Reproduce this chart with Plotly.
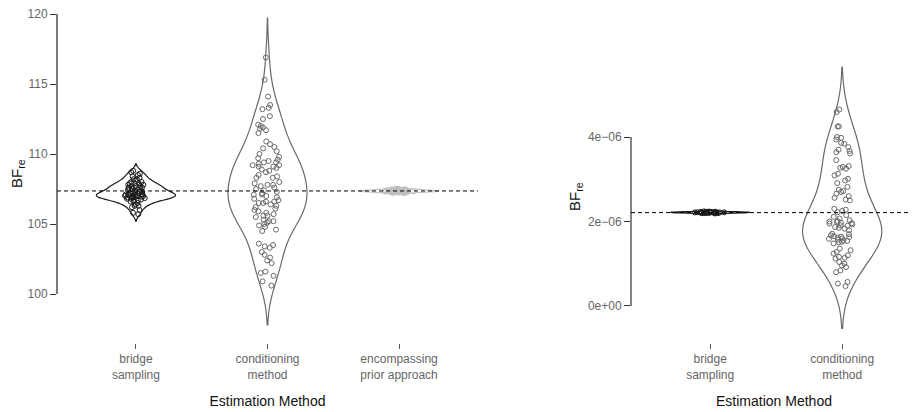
import plotly.graph_objects as go

# ---------------- data ----------------
left_categories = ["bridge<br>sampling", "conditioning<br>method", "encompassing<br>prior approach"]
right_categories = ["bridge<br>sampling", "conditioning<br>method"]

left_bridge = [108.8, 108.7, 108.6, 108.5, 108.4, 108.3, 108.2, 108.2, 108.1, 108.0, 108.0,
               107.9, 107.9, 107.8, 107.8, 107.8, 107.7, 107.7, 107.7, 107.6, 107.6, 107.6,
               107.5, 107.5, 107.5, 107.4, 107.4, 107.4, 107.3, 107.3, 107.3, 107.2, 107.2,
               107.2, 107.15, 107.1, 107.1, 107.1, 107.05, 107.05, 107.0, 107.0, 107.0, 107.0,
               107.0, 107.0, 106.95, 106.95, 106.9, 106.9, 106.9, 106.85, 106.8, 106.8, 106.75,
               106.7, 106.7, 106.6, 106.6, 106.5, 106.4, 106.3, 106.3, 106.2, 106.0, 105.8,
               105.7]

left_conditioning = [116.9, 115.3, 114.1, 113.5, 113.3, 113.2, 112.7, 112.5, 112.1, 112.0,
                     111.8, 111.7, 111.5, 111.9, 110.9, 110.7, 110.5, 110.4, 110.2, 110.0,
                     109.8, 109.7, 109.6, 109.5, 109.4, 109.4, 109.3, 109.2, 109.2, 109.1,
                     109.1, 109.0, 108.9, 108.8, 108.7, 108.5, 108.4, 108.3, 108.3, 108.0,
                     107.9, 107.8, 107.8, 107.7, 107.6, 107.5, 107.4, 107.3, 107.2, 107.1,
                     107.1, 107.0, 106.9, 106.8, 106.7, 106.6, 106.6, 106.5, 106.5, 106.4,
                     106.3, 106.2, 106.1, 106.0, 105.9, 105.8, 105.7, 105.6, 105.6, 105.5,
                     105.3, 105.2, 105.2, 105.1, 105.0, 104.9, 104.8, 104.6, 104.5, 103.6,
                     103.5, 103.4, 103.3, 103.0, 102.8, 102.6, 102.4, 102.2, 101.6, 101.5,
                     101.3, 100.9, 100.6]

left_encompassing = [107.52, 107.50, 107.48, 107.47, 107.46, 107.45, 107.44, 107.43, 107.42,
                     107.42, 107.41, 107.40, 107.40, 107.39, 107.39, 107.38, 107.38, 107.37,
                     107.37, 107.36, 107.36, 107.36, 107.35, 107.35, 107.35, 107.34, 107.34,
                     107.33, 107.33, 107.32, 107.32, 107.31, 107.31, 107.30, 107.30, 107.29,
                     107.28, 107.27, 107.26, 107.25, 107.24, 107.22, 107.20]

right_bridge = [2.240e-6, 2.235e-6, 2.232e-6, 2.230e-6, 2.228e-6, 2.226e-6, 2.225e-6, 2.224e-6,
                2.222e-6, 2.221e-6, 2.220e-6, 2.219e-6, 2.218e-6, 2.217e-6, 2.216e-6, 2.215e-6,
                2.214e-6, 2.213e-6, 2.212e-6, 2.211e-6, 2.210e-6, 2.208e-6, 2.206e-6, 2.204e-6,
                2.202e-6, 2.200e-6, 2.197e-6, 2.194e-6, 2.190e-6]

right_conditioning = [4.65e-6, 4.59e-6, 4.25e-6, 4.25e-6, 4.00e-6, 3.98e-6, 3.94e-6, 3.86e-6,
                      3.84e-6, 3.76e-6, 3.70e-6, 3.67e-6, 3.64e-6, 3.61e-6, 3.45e-6, 3.31e-6,
                      3.29e-6, 3.27e-6, 3.25e-6, 3.13e-6, 3.09e-6, 3.01e-6, 2.97e-6, 2.91e-6,
                      2.82e-6, 2.75e-6, 2.72e-6, 2.70e-6, 2.66e-6, 2.60e-6, 2.56e-6, 2.52e-6,
                      2.50e-6, 2.30e-6, 2.28e-6, 2.25e-6, 2.22e-6, 2.15e-6, 2.11e-6, 2.07e-6,
                      2.03e-6, 2.01e-6, 2.00e-6, 1.99e-6, 1.97e-6, 1.96e-6, 1.95e-6, 1.93e-6,
                      1.91e-6, 1.90e-6, 1.87e-6, 1.85e-6, 1.83e-6, 1.79e-6, 1.71e-6, 1.70e-6,
                      1.67e-6, 1.65e-6, 1.64e-6, 1.63e-6, 1.62e-6, 1.60e-6, 1.59e-6, 1.57e-6,
                      1.55e-6, 1.54e-6, 1.52e-6, 1.51e-6, 1.48e-6, 1.36e-6, 1.32e-6, 1.28e-6,
                      1.24e-6, 1.20e-6, 1.16e-6, 1.14e-6, 1.12e-6, 1.04e-6, 1.00e-6, 0.96e-6,
                      0.92e-6, 0.84e-6, 0.80e-6, 0.57e-6, 0.53e-6, 0.47e-6]

left_reference = 107.36
right_reference = 2.21e-6

left_yticks = [100, 105, 110, 115, 120]
right_yticks = [0, 2e-6, 4e-6]
right_yticklabels = ["0e+00", "2e\u221206", "4e\u221206"]

# ---------------- figure ----------------
FONT = "Liberation Sans, Arial, sans-serif"
W, H = 909, 404          # page body has an 8px default margin
TOP, BOTTOM = 2, 335     # plot area in figure pixels
fig = go.Figure()


def add_violin(values, cat, color, bw, xa, ya, ptcolor=None):
    fig.add_trace(go.Violin(
        x=[cat] * len(values), y=values, xaxis=xa, yaxis=ya,
        line=dict(color=color, width=1.2), fillcolor="rgba(0,0,0,0)",
        bandwidth=bw, spanmode="soft", width=0.6, points="all", jitter=0.4,
        pointpos=0, marker=dict(symbol="circle-open", size=5, color=ptcolor or color,
                                line=dict(width=1, color=ptcolor or color)),
        showlegend=False, hoverinfo="y"))


add_violin(left_bridge, left_categories[0], "#1a1a1a", 0.25, "x", "y")
add_violin(left_conditioning, left_categories[1], "#6a6a6a", 1.4, "x", "y")
add_violin(left_encompassing, left_categories[2], "#c4c4c4", 0.06, "x", "y", "#bdbdbd")
add_violin(right_bridge, right_categories[0], "#1a1a1a", 0.012e-6, "x2", "y2")
add_violin(right_conditioning, right_categories[1], "#6a6a6a", 0.5e-6, "x2", "y2")

xcommon = dict(type="category", showgrid=False, zeroline=False, showline=False,
               automargin=False, ticklabeloverflow="allow",
               ticks="outside", ticklen=5, tickcolor="#555555", tickwidth=1,
               tickfont=dict(size=12, color="#666666", family=FONT),
               title=dict(text="Estimation Method", font=dict(size=14, color="#111111", family=FONT),
                          standoff=15))
ycommon = dict(showgrid=False, zeroline=False, showline=False, ticks="outside", ticklen=6,
               automargin=False, ticklabeloverflow="allow",
               tickcolor="#333333", tickwidth=1,
               tickfont=dict(size=12, color="#666666", family=FONT))

fig.update_layout(
    width=W, height=H, margin=dict(l=0, r=0, t=TOP, b=H - BOTTOM, autoexpand=False),
    paper_bgcolor="white", plot_bgcolor="white",
    font=dict(family=FONT),
    violinmode="overlay",
    xaxis=dict(domain=[49 / W, 470 / W], range=[-0.6, 2.6], anchor="y",
               categoryorder="array", categoryarray=left_categories, **xcommon),
    yaxis=dict(range=[96.5, 120.286], tickvals=left_yticks, anchor="x", **ycommon),
    xaxis2=dict(domain=[623 / W, 1.0], range=[-0.6, 1.567], anchor="y2",
                categoryorder="array", categoryarray=right_categories, **xcommon),
    yaxis2=dict(range=[-0.876e-6, 7.006e-6], tickvals=right_yticks, ticktext=right_yticklabels,
                anchor="x2", **ycommon),
)

# axis spines limited to the tick range, and reference lines
fig.add_shape(type="line", xref="x domain", yref="y", x0=0, x1=0, y0=100, y1=120,
              line=dict(color="#222222", width=1.2))
fig.add_shape(type="line", xref="x2 domain", yref="y2", x0=0, x1=0, y0=0, y1=4e-6,
              line=dict(color="#333333", width=1.2))
fig.add_shape(type="line", xref="x domain", yref="y", x0=0, x1=1, y0=left_reference,
              y1=left_reference, line=dict(color="black", width=1, dash="4px,3px"), layer="above")
fig.add_shape(type="line", xref="x2 domain", yref="y2", x0=0, x1=1, y0=right_reference,
              y1=right_reference, line=dict(color="black", width=1, dash="4px,3px"), layer="above")

ph = BOTTOM - TOP
fig.add_annotation(text="BF<sub>re</sub>", xref="paper", yref="paper", x=(17 - 8) / W,
                   y=(BOTTOM - (174 - 8)) / ph, textangle=-90, showarrow=False,
                   xanchor="center", yanchor="middle", borderpad=0,
                   font=dict(size=15, color="#111111", family=FONT))
fig.add_annotation(text="BF<sub>re</sub>", xref="paper", yref="paper", x=(575 - 8) / W,
                   y=(BOTTOM - (197 - 8)) / ph, textangle=-90, showarrow=False,
                   xanchor="center", yanchor="middle", borderpad=0,
                   font=dict(size=15, color="#111111", family=FONT))

fig.write_html("out.html")
